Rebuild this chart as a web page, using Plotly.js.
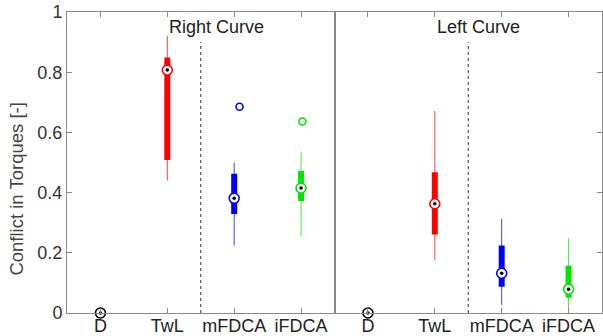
<!DOCTYPE html>
<html><head><meta charset="utf-8">
<script src="https://cdn.plot.ly/plotly-3.0.1.min.js"></script>
<style>html,body{margin:0;padding:0;background:#fff}#chart{width:603px;height:336px}</style>
</head><body><div id="chart"></div><script>
// ---- data ----
const categories = ["D", "TwL", "mFDCA", "iFDCA"];
const categoryPos = [1, 2, 3, 4];
const panelTitles = ["Right Curve", "Left Curve"];
const yAxisTitle = "Conflict in Torques [-]";
const groupColors = ["#000000", "#ff0000", "#0000ff", "#00e600"];
const yTickVals = [0, 0.2, 0.4, 0.6, 0.8, 1];
const yTickText = ["0", "0.2", "0.4", "0.6", "0.8", "1"];

// Right Curve
const rightWhiskerLow  = [0, 0.440, 0.224, 0.256];
const rightQ1          = [0, 0.508, 0.329, 0.372];
const rightMedian      = [0, 0.807, 0.381, 0.415];
const rightQ3          = [0, 0.849, 0.463, 0.472];
const rightWhiskerHigh = [0, 0.920, 0.500, 0.536];
const rightOutlierCat    = [3, 4];
const rightOutlierValue  = [0.685, 0.636];
const rightOutlierJitter = [0.08, 0.02];

// Left Curve
const leftWhiskerLow  = [0, 0.177, 0.027, 0.000];
const leftQ1          = [0, 0.261, 0.087, 0.051];
const leftMedian      = [0, 0.363, 0.132, 0.079];
const leftQ3          = [0, 0.468, 0.224, 0.157];
const leftWhiskerHigh = [0, 0.671, 0.312, 0.248];
const leftOutlierCat    = [];
const leftOutlierValue  = [];
const leftOutlierJitter = [];

// separator (dotted) between groups and panel label anchor
const separatorX = 2.5;
const separatorTop = 0.9;
const panelTitleX = 2;
const panelTitleY = 0.95;

// ---- build ----
const panels = [
  {xa: "x", ya: "y", lo: rightWhiskerLow, q1: rightQ1, med: rightMedian, q3: rightQ3, hi: rightWhiskerHigh,
   oc: rightOutlierCat, ov: rightOutlierValue, oj: rightOutlierJitter, title: panelTitles[0]},
  {xa: "x2", ya: "y2", lo: leftWhiskerLow, q1: leftQ1, med: leftMedian, q3: leftQ3, hi: leftWhiskerHigh,
   oc: leftOutlierCat, ov: leftOutlierValue, oj: leftOutlierJitter, title: panelTitles[1]}
];

const traces = [];
panels.forEach(p => {
  traces.push({type: "scatter", mode: "lines", xaxis: p.xa, yaxis: p.ya,
    x: [separatorX, separatorX], y: [0, separatorTop],
    line: {color: "#333", width: 1, dash: "dot"}, hoverinfo: "skip", showlegend: false});
  categoryPos.forEach((c, i) => {
    if (p.hi[i] > p.lo[i]) {
      traces.push({type: "scatter", mode: "lines", xaxis: p.xa, yaxis: p.ya,
        x: [c, c], y: [p.lo[i], p.hi[i]], opacity: 0.75,
        line: {color: groupColors[i], width: 1}, showlegend: false, cliponaxis: false});
    }
    if (p.q3[i] > p.q1[i]) {
      traces.push({type: "scatter", mode: "lines", xaxis: p.xa, yaxis: p.ya,
        x: [c, c], y: [p.q1[i], p.q3[i]],
        line: {color: groupColors[i], width: 6}, showlegend: false});
    }
  });
  if (p.oc.length) {
    traces.push({type: "scatter", mode: "markers", xaxis: p.xa, yaxis: p.ya,
      x: p.oc.map((c, k) => c + p.oj[k]), y: p.ov,
      marker: {symbol: "circle-open", size: 7, color: p.oc.map(c => groupColors[c - 1]), line: {width: 1.6}},
      showlegend: false});
  }
  traces.push({type: "scatter", mode: "markers", xaxis: p.xa, yaxis: p.ya, cliponaxis: false,
    x: categoryPos, y: p.med,
    marker: {symbol: "circle", size: 10, color: "#ffffff", line: {color: groupColors, width: 1.6}},
    showlegend: false});
  traces.push({type: "scatter", mode: "markers", xaxis: p.xa, yaxis: p.ya, cliponaxis: false,
    x: categoryPos, y: p.med,
    marker: {symbol: "circle", size: 3.5, color: "#000000"}, showlegend: false});
});

const fam = "Liberation Sans, Arial, Helvetica, sans-serif";
const axLine = "#8a8a8a";
const xCommon = {range: [0.5, 4.5], tickvals: categoryPos, ticktext: categories,
  ticks: "inside", ticklen: 5, tickcolor: axLine, showline: true, linecolor: axLine, linewidth: 1,
  mirror: "ticks", showgrid: false, zeroline: false, fixedrange: true, ticklabelstandoff: -4,
  tickfont: {family: fam, size: 18, color: "#222"}};

const annotations = panels.map(p => ({
  xref: p.xa, yref: p.ya, x: panelTitleX, y: panelTitleY, text: p.title, showarrow: false,
  xanchor: "left", yanchor: "middle", font: {family: fam, size: 18, color: "#222"}
}));
annotations.push({xref: "paper", yref: "paper", x: 0, y: 0.41, xshift: -50, text: yAxisTitle,
  textangle: -90, showarrow: false, xanchor: "center", yanchor: "middle",
  font: {family: fam, size: 18.5, color: "#444"}});

const layout = {
  width: 603, height: 336,
  margin: {l: 67, r: 1, t: 12, b: 23, pad: 0},
  paper_bgcolor: "#fff", plot_bgcolor: "#fff",
  font: {family: fam, size: 18, color: "#222"}, showlegend: false,
  xaxis: Object.assign({}, xCommon, {domain: [0, 0.5], anchor: "y"}),
  xaxis2: Object.assign({}, xCommon, {domain: [0.5, 1], anchor: "y2"}),
  yaxis: {range: [0, 1], tickvals: yTickVals, ticktext: yTickText, ticks: "inside", ticklen: 5,
    tickcolor: axLine, showline: true, linecolor: axLine, mirror: true, showgrid: false, zeroline: false,
    anchor: "x", tickfont: {family: fam, size: 18, color: "#333"}},
  yaxis2: {range: [0, 1], tickvals: yTickVals, ticks: "inside", ticklen: 5, side: "right",
    tickcolor: axLine, showline: true, linecolor: axLine, mirror: true, showgrid: false, zeroline: false,
    showticklabels: false, anchor: "x2", matches: "y"},
  annotations: annotations
};

Plotly.newPlot("chart", traces, layout, {staticPlot: true, displayModeBar: false});
</script></body></html>
